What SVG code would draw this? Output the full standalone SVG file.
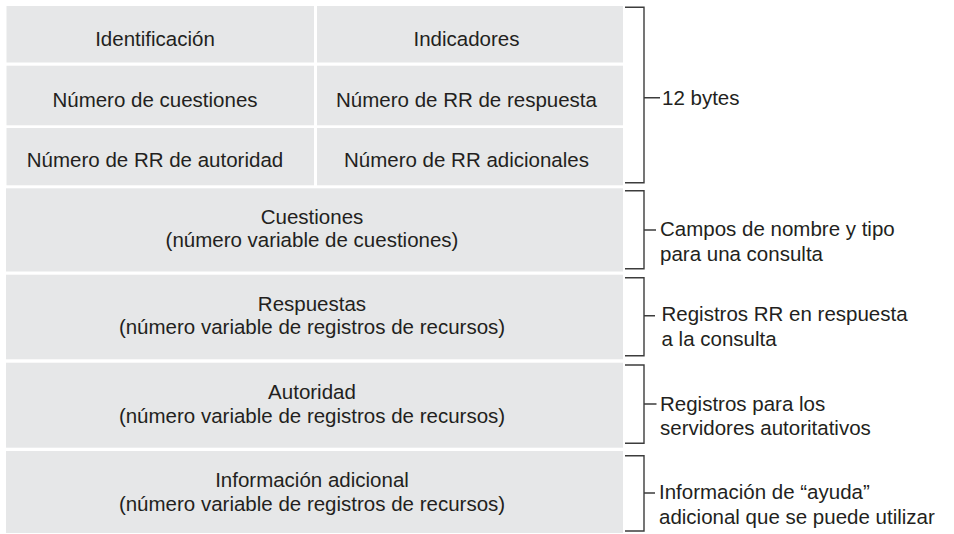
<svg xmlns="http://www.w3.org/2000/svg" width="954" height="534" viewBox="0 0 954 534">
<style>
.box{fill:#e6e7e8;}
.t{font-family:"Liberation Sans",Arial,sans-serif;font-size:20.5px;fill:#231f20;}
.c{text-anchor:middle;}
.br{fill:none;stroke:#3c3c3c;stroke-width:1.4;}
</style>
<rect width="954" height="534" fill="#ffffff"/>
<g id="identificacion"><rect class="box" x="6.5" y="6" width="307.5" height="56.5"/><text class="t c" x="155" y="45.5">Identificación</text></g>
<g id="indicadores"><rect class="box" x="317" y="6" width="306" height="56.5"/><text class="t c" x="466.5" y="45.5">Indicadores</text></g>
<g id="num-cuestiones"><rect class="box" x="6.5" y="65.7" width="307.5" height="59.6"/><text class="t c" x="155" y="106.5">Número de cuestiones</text></g>
<g id="num-rr-respuesta"><rect class="box" x="317" y="65.7" width="306" height="59.6"/><text class="t c" x="466.5" y="106.5">Número de RR de respuesta</text></g>
<g id="num-rr-autoridad"><rect class="box" x="6.5" y="128" width="307.5" height="57.3"/><text class="t c" x="155" y="166.5">Número de RR de autoridad</text></g>
<g id="num-rr-adicionales"><rect class="box" x="317" y="128" width="306" height="57.3"/><text class="t c" x="466.5" y="166.5">Número de RR adicionales</text></g>
<g id="cuestiones"><rect class="box" x="6" y="188.3" width="617" height="83.2"/><text class="t c" x="312" y="223.5"><tspan x="312">Cuestiones</tspan><tspan x="312" dy="23.5">(número variable de cuestiones)</tspan></text></g>
<g id="respuestas"><rect class="box" x="6" y="274.7" width="617" height="84.6"/><text class="t c" x="312" y="310.5"><tspan x="312">Respuestas</tspan><tspan x="312" dy="23.5">(número variable de registros de recursos)</tspan></text></g>
<g id="autoridad"><rect class="box" x="6" y="362.7" width="617" height="85"/><text class="t c" x="312" y="399"><tspan x="312">Autoridad</tspan><tspan x="312" dy="23.5">(número variable de registros de recursos)</tspan></text></g>
<g id="informacion"><rect class="box" x="6" y="451" width="617" height="82"/><text class="t c" x="312" y="487"><tspan x="312">Información adicional</tspan><tspan x="312" dy="23.5">(número variable de registros de recursos)</tspan></text></g>
<g id="connectors">
<path class="br" d="M625 7.3H644V182.7H625M644 97.7H660"/>
<path class="br" d="M625 190.7H644V268.7H625M644 230H656"/>
<path class="br" d="M625 277.7H644V355.7H625M644 315.7H655"/>
<path class="br" d="M625 365H644V443.3H625M644 404H656.5"/>
<path class="br" d="M625 455.7H644V531H625M644 493H655"/>
</g>
<g id="labels">
<text class="t" x="662" y="104.5">12 bytes</text>
<text class="t" x="660" y="236"><tspan x="660">Campos de nombre y tipo</tspan><tspan x="660" dy="24.5">para una consulta</tspan></text>
<text class="t" x="661.5" y="321"><tspan x="661.5">Registros RR en respuesta</tspan><tspan x="661.5" dy="24.5">a la consulta</tspan></text>
<text class="t" x="660" y="410.5"><tspan x="660">Registros para los</tspan><tspan x="660" dy="24.5">servidores autoritativos</tspan></text>
<text class="t" x="659" y="499"><tspan x="659">Información de “ayuda”</tspan><tspan x="659" dy="24.5">adicional que se puede utilizar</tspan></text>
</g>
</svg>
